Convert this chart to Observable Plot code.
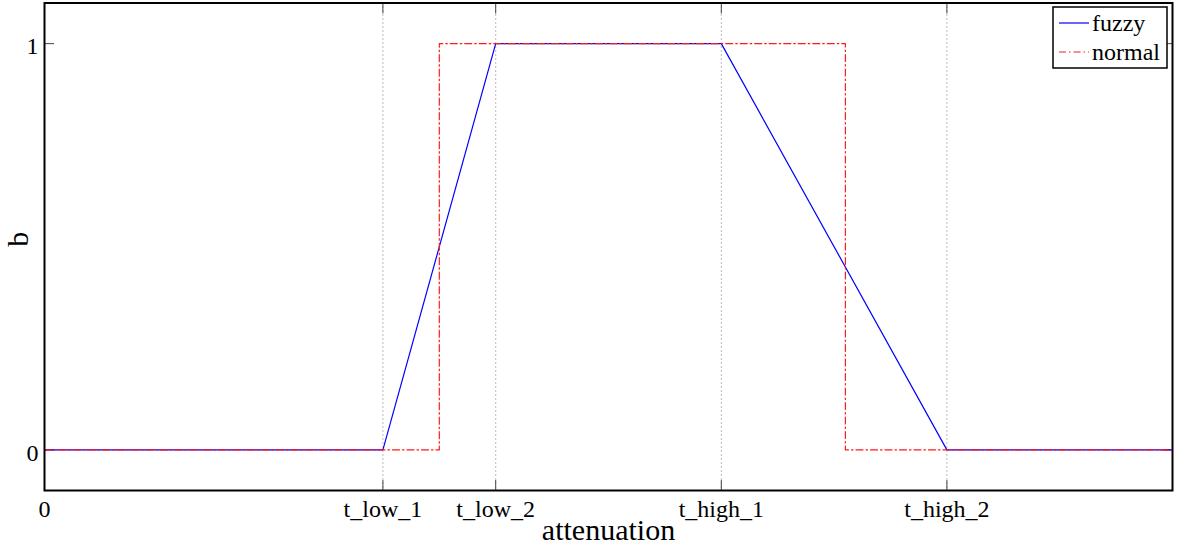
<!DOCTYPE html>
<html>
<head>
<meta charset="utf-8">
<script src="https://cdn.jsdelivr.net/npm/d3@7"></script>
<script src="https://cdn.jsdelivr.net/npm/@observablehq/plot@0.6"></script>
<style>
  html, body { margin: 0; padding: 0; background: #fff; }
  #chart svg { display: block; }
</style>
</head>
<body>
<div id="chart"></div>
<script>
// ---- data ----
const xTicks = [0, 3, 4, 6, 8];
const xTickLabels = ["0", "t_low_1", "t_low_2", "t_high_1", "t_high_2"];
const yTicks = [0, 1];
const fuzzyX = [0, 3, 4, 6, 8, 10];
const fuzzyY = [0, 0, 1, 1, 0, 0];
const normalX = [0, 3.5, 3.5, 7.1, 7.1, 10];
const normalY = [0, 0, 1, 1, 0, 0];
const seriesNames = ["fuzzy", "normal"];

const fuzzy = fuzzyX.map((x, i) => ({x, y: fuzzyY[i]}));
const normal = normalX.map((x, i) => ({x, y: normalY[i]}));
const labelOf = d => xTickLabels[xTicks.indexOf(d)];

const blue = "#0000ff";
const red = "#ff1a1a";
const tickColor = "#444";
const dashDot = "7,3,1.5,3";
const serif = "'Liberation Serif', 'Times New Roman', Times, serif";

const plot = Plot.plot({
  width: 1189,
  height: 549,
  marginLeft: 44,
  marginRight: 17,
  marginTop: 2.5,
  marginBottom: 59,
  style: {fontFamily: serif, fontSize: "24px", background: "#fff", color: "#000"},
  x: {domain: [0, 10]},
  y: {domain: [-0.1, 1.1]},
  marks: [
    Plot.gridX(xTicks, {stroke: "#777", strokeOpacity: 1, strokeDasharray: "1,3"}),
    // inward ticks on all four sides
    Plot.axisX(xTicks, {anchor: "bottom", tickSize: -10, tickFormat: () => "", stroke: tickColor, label: null}),
    Plot.axisX(xTicks, {anchor: "top", tickSize: -10, tickFormat: () => "", stroke: tickColor, label: null}),
    Plot.axisY(yTicks, {anchor: "left", tickSize: -10, tickFormat: () => "", stroke: tickColor, label: null}),
    Plot.axisY(yTicks, {anchor: "right", tickSize: -10, tickFormat: () => "", stroke: tickColor, label: null}),
    // tick labels
    Plot.axisX(xTicks, {anchor: "bottom", tickSize: 0, tickPadding: 9, tickFormat: labelOf, label: null, fill: "#000"}),
    Plot.axisY(yTicks, {anchor: "left", tickSize: 0, tickPadding: 6, tickFormat: d => String(d), label: null, fill: "#000", dy: 3}),
    // series
    Plot.line(fuzzy, {x: "x", y: "y", stroke: blue, strokeWidth: 1.2}),
    Plot.line(normal, {x: "x", y: "y", stroke: red, strokeWidth: 1.2, strokeDasharray: dashDot}),
    Plot.frame({stroke: "#000", strokeWidth: 2}),
    // axis titles
    Plot.text(["attenuation"], {frameAnchor: "bottom", dy: 40, text: d => d, fontSize: 30, lineAnchor: "middle", fill: "#000"}),
    Plot.text(["b"], {frameAnchor: "left", dx: -26, text: d => d, fontSize: 30, rotate: -90, lineAnchor: "middle", fill: "#000"})
  ]
});

// legend (inside top-right of the axes)
const svg = d3.select(plot);
const lg = svg.append("g")
  .attr("font-family", serif).attr("font-size", 24).attr("text-anchor", "start");
lg.append("rect").attr("x", 1053).attr("y", 7).attr("width", 114).attr("height", 61)
  .attr("fill", "#fff").attr("stroke", "#000").attr("stroke-width", 1.5);
const legendStyles = [
  {stroke: blue, dash: null},
  {stroke: red, dash: dashDot}
];
seriesNames.forEach((name, i) => {
  const y = 23 + i * 29;
  lg.append("line").attr("x1", 1059).attr("x2", 1089).attr("y1", y).attr("y2", y)
    .attr("stroke", legendStyles[i].stroke).attr("stroke-width", 1.2)
    .attr("stroke-dasharray", legendStyles[i].dash);
  lg.append("text").attr("x", 1092).attr("y", y).attr("dy", "0.32em")
    .attr("text-anchor", "start").attr("fill", "#000").text(name);
});

document.getElementById("chart").appendChild(plot);
</script>
</body>
</html>
